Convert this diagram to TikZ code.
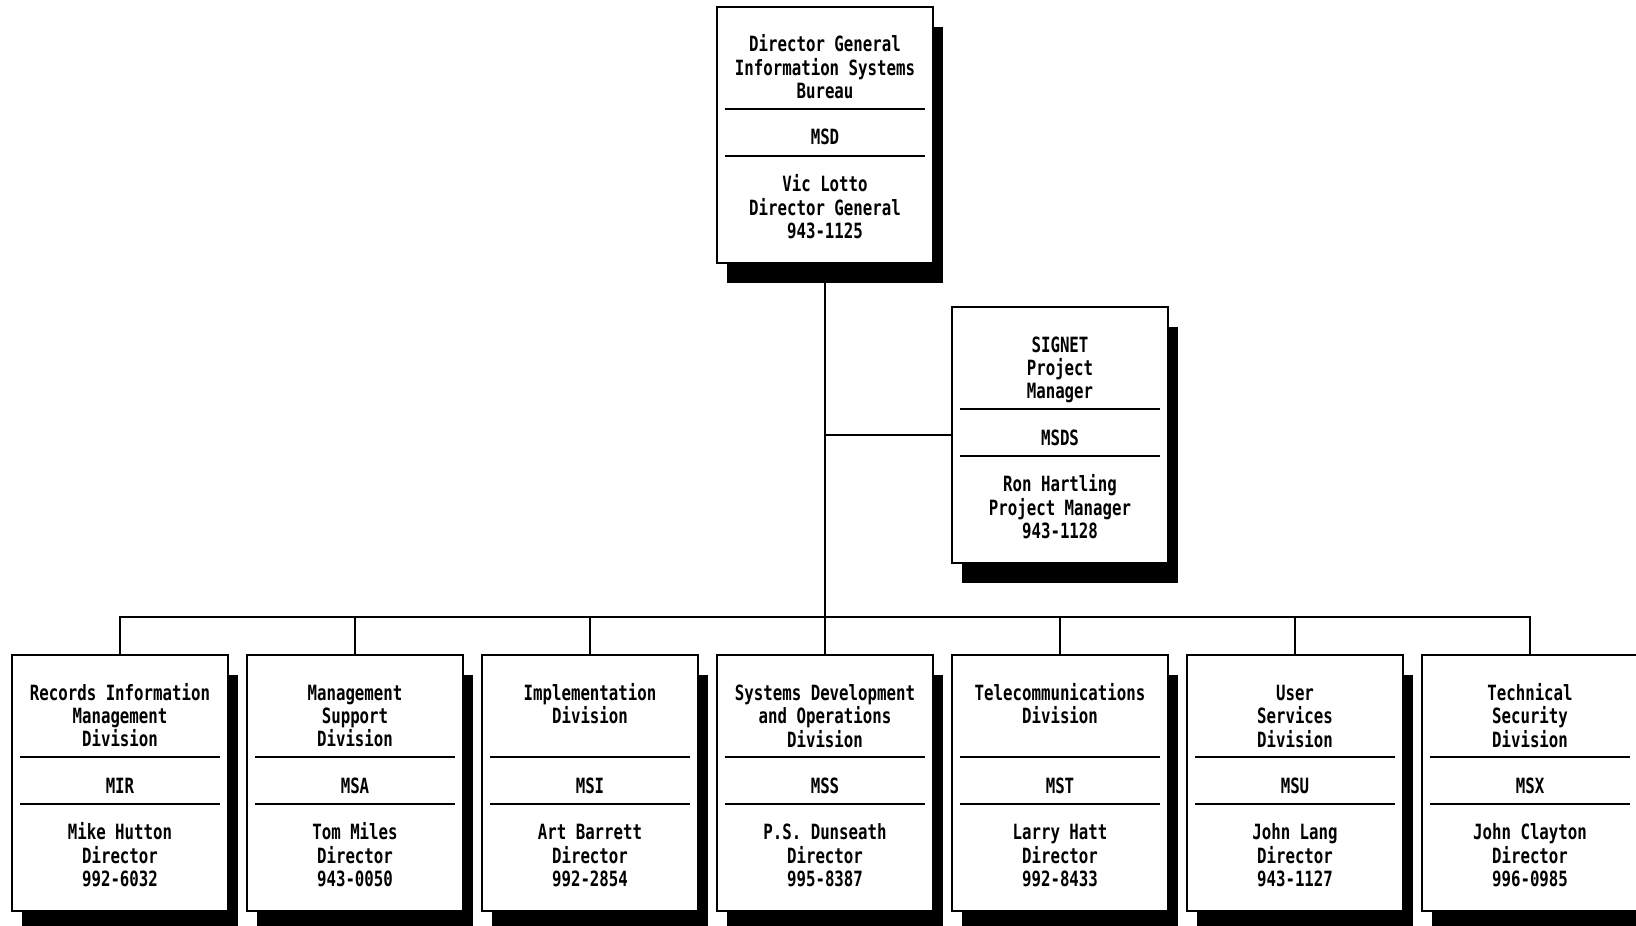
\documentclass[tikz,border=0pt]{standalone}
\usepackage{fontspec}
\usepackage{tikz}
\usetikzlibrary{positioning,shadows}

\newfontfamily\orgfont[FakeStretch=0.75]{DejaVu Sans Mono}

% one box: title lines, office code, person lines
\newcommand{\orgunit}[3]{%
  \vbox to 128pt{\hsize=108pt\offinterlineskip
    \vskip 22.5pt
    \hbox to 108pt{\hss\smash{\begin{tabular}[t]{@{}c@{}}#1\end{tabular}}\hss}
    \vskip 27.8pt
    \hbox to 108pt{\hss\vrule width 100pt height 1.3pt depth 0pt\hss}
    \vskip 17.4pt
    \hbox to 108pt{\hss\smash{#2}\hss}
    \vskip 4.8pt
    \hbox to 108pt{\hss\vrule width 100pt height 1.3pt depth 0pt\hss}
    \vskip 17.2pt
    \hbox to 108pt{\hss\smash{\begin{tabular}[t]{@{}c@{}}#3\end{tabular}}\hss}
    \vfil}}

\begin{document}
\begin{tikzpicture}[line width = 1pt,
		orgbox/.style={draw, fill=white, inner sep=0pt,
			font=\orgfont\bfseries\fontsize{10.5}{11.5}\selectfont,
			drop shadow={shadow xshift=5pt, shadow yshift=-10pt, opacity=1, fill=black}},
		level 1/.style={sibling distance=117.5pt, level distance=324pt},
		edge from parent path={(\tikzparentnode.south) |- ([yshift=18.5pt]\tikzchildnode.north) -- (\tikzchildnode.north)}]

		\useasboundingbox (-412.5pt,67.5pt) rectangle (405.5pt,-395pt);

		\node [orgbox] (msd) {\orgunit{Director General\\Information Systems\\Bureau}{MSD}{Vic Lotto\\Director General\\943-1125}}
			child {node[orgbox] (mir) {\orgunit{Records Information\\Management\\Division}{MIR}{Mike Hutton\\Director\\992-6032}}}
			child {node[orgbox] (msa) {\orgunit{Management\\Support\\Division}{MSA}{Tom Miles\\Director\\943-0050}}}
			child {node[orgbox] (msi) {\orgunit{Implementation\\Division}{MSI}{Art Barrett\\Director\\992-2854}}}
			child {node[orgbox] (mss) {\orgunit{Systems Development\\and Operations\\Division}{MSS}{P.S. Dunseath\\Director\\995-8387}}}
			child {node[orgbox] (mst) {\orgunit{Telecommunications\\Division}{MST}{Larry Hatt\\Director\\992-8433}}}
			child {node[orgbox] (msu) {\orgunit{User\\Services\\Division}{MSU}{John Lang\\Director\\943-1127}}}
			child {node[orgbox] (msx) {\orgunit{Technical\\Security\\Division}{MSX}{John Clayton\\Director\\996-0985}}};

		\node [orgbox, below right=21pt and 8.5pt of msd] (msds) {\orgunit{SIGNET\\Project\\Manager}{MSDS}{Ron Hartling\\Project Manager\\943-1128}};
		\draw (msds.west) -- (msds.west -| msd.south);

\end{tikzpicture}
\end{document}
